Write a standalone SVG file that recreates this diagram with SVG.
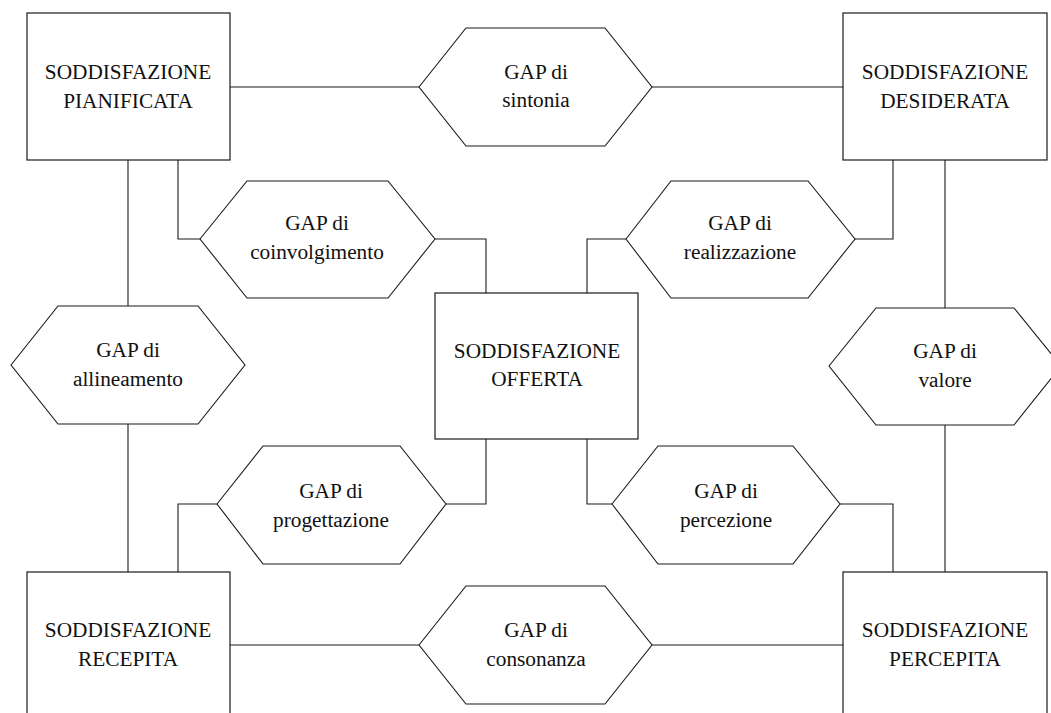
<svg xmlns="http://www.w3.org/2000/svg" width="1051" height="713" viewBox="0 0 1051 713">
<style>
.box{fill:#fff;stroke:#1a1a1a;stroke-width:1.2}
.hex{fill:#fff;stroke:#1a1a1a;stroke-width:1.1}
.conn{fill:none;stroke:#1a1a1a;stroke-width:1.1}
text{font-family:"Liberation Serif","Times New Roman",serif;font-size:21.3px;fill:#111;text-anchor:middle}
</style>
<rect width="1051" height="713" fill="#fff"/>
<g id="connectors">
<path class="conn" d="M230,87 H419"/>
<path class="conn" d="M652,87 H843"/>
<path class="conn" d="M230,645 H419"/>
<path class="conn" d="M652,645 H843"/>
<path class="conn" d="M128,160 V306"/>
<path class="conn" d="M128,424 V572"/>
<path class="conn" d="M945,160 V308"/>
<path class="conn" d="M945,425 V572"/>
<path class="conn" d="M178,160 V239 H200"/>
<path class="conn" d="M435,239 H486 V293"/>
<path class="conn" d="M893,160 V239 H855"/>
<path class="conn" d="M626,239 H587 V293"/>
<path class="conn" d="M486,439 V504 H446"/>
<path class="conn" d="M217,504 H178 V572"/>
<path class="conn" d="M587,439 V504 H612"/>
<path class="conn" d="M840,504 H893 V572"/>
</g>
<g id="n-pianificata">
<rect class="box" x="27" y="13" width="203" height="147"/>
<text x="128" y="79">SODDISFAZIONE</text>
<text x="128" y="108">PIANIFICATA</text>
</g>
<g id="n-desiderata">
<rect class="box" x="843" y="13" width="204" height="147"/>
<text x="945" y="79">SODDISFAZIONE</text>
<text x="945" y="108">DESIDERATA</text>
</g>
<g id="n-offerta">
<rect class="box" x="435" y="293" width="203" height="146"/>
<text x="537" y="358">SODDISFAZIONE</text>
<text x="537" y="386">OFFERTA</text>
</g>
<g id="n-recepita">
<rect class="box" x="27" y="572" width="203" height="147"/>
<text x="128" y="637">SODDISFAZIONE</text>
<text x="128" y="666">RECEPITA</text>
</g>
<g id="n-percepita">
<rect class="box" x="843" y="572" width="204" height="147"/>
<text x="945" y="637">SODDISFAZIONE</text>
<text x="945" y="666">PERCEPITA</text>
</g>
<g id="g-sintonia">
<polygon class="hex" points="419,87 466,28 605,28 652,87 605,146 466,146"/>
<text x="536" y="79">GAP di</text>
<text x="536" y="107">sintonia</text>
</g>
<g id="g-consonanza">
<polygon class="hex" points="419,645 466,586 605,586 652,645 605,704 466,704"/>
<text x="536" y="637">GAP di</text>
<text x="536" y="666">consonanza</text>
</g>
<g id="g-allineamento">
<polygon class="hex" points="11,365 58,306 198,306 245,365 198,424 58,424"/>
<text x="128" y="357">GAP di</text>
<text x="128" y="386">allineamento</text>
</g>
<g id="g-valore">
<polygon class="hex" points="829,366 876,308 1014,308 1061,366 1014,425 876,425"/>
<text x="945" y="358">GAP di</text>
<text x="945" y="387">valore</text>
</g>
<g id="g-coinvolgimento">
<polygon class="hex" points="200,239 247,181 388,181 435,239 388,298 247,298"/>
<text x="317" y="230">GAP di</text>
<text x="317" y="259">coinvolgimento</text>
</g>
<g id="g-realizzazione">
<polygon class="hex" points="626,239 671,181 808,181 855,239 808,298 671,298"/>
<text x="740" y="230">GAP di</text>
<text x="740" y="259">realizzazione</text>
</g>
<g id="g-progettazione">
<polygon class="hex" points="217,504 263,446 400,446 446,504 400,564 263,564"/>
<text x="331" y="498">GAP di</text>
<text x="331" y="527">progettazione</text>
</g>
<g id="g-percezione">
<polygon class="hex" points="612,504 658,446 793,446 840,504 793,564 658,564"/>
<text x="726" y="498">GAP di</text>
<text x="726" y="527">percezione</text>
</g>
</svg>
